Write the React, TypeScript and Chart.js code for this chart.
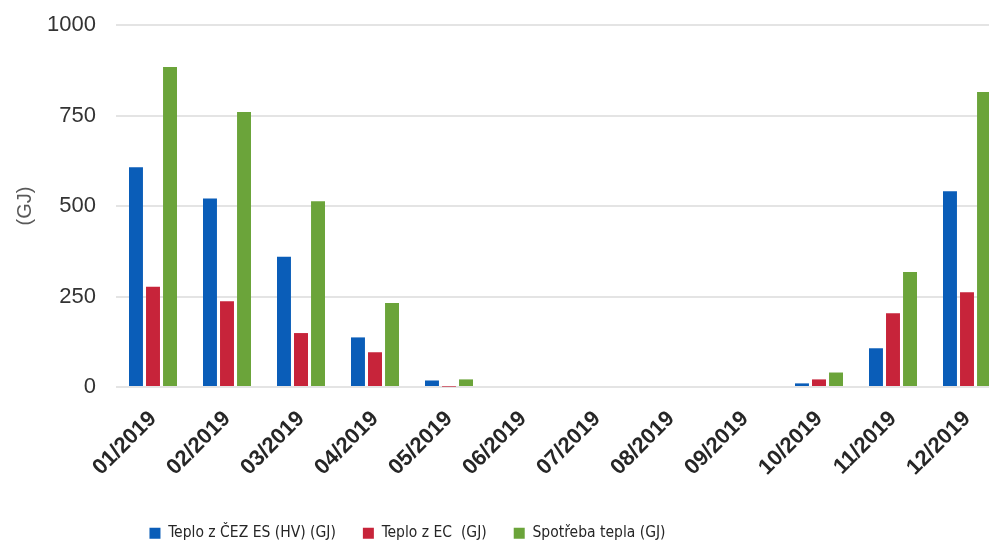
import React, { useEffect, useRef } from "react";
import { Chart, registerables } from "chart.js";

Chart.register(...registerables);

const categories = ["01/2019", "02/2019", "03/2019", "04/2019", "05/2019", "06/2019", "07/2019", "08/2019", "09/2019", "10/2019", "11/2019", "12/2019"];
const seriesNames = ["Teplo z ČEZ ES (HV) (GJ)", "Teplo z EC  (GJ)", "Spotřeba tepla (GJ)"];
const cezValues = [607, 521, 360, 137, 18, 0, 0, 0, 0, 10, 107, 541];
const ecValues = [277, 237, 149, 96, 1, 0, 0, 0, 0, 21, 204, 262];
const spotrebaValues = [884, 760, 513, 232, 21, 0, 0, 0, 0, 40, 318, 815];
const yTicks = [0, 250, 500, 750, 1000];
const yTitle = "(GJ)";

const legendShift = {
  id: "legendShift",
  afterLayout(chart: any) {
    const lg = chart.legend;
    if (!lg) return;
    const shift = 407.5 - (lg.left + lg.right) / 2;
    lg.left += shift;
    lg.right += shift;
  },
};

export default function App() {
  const ref = useRef<HTMLCanvasElement | null>(null);
  useEffect(() => {
    if (!ref.current) return;
    const chart = new Chart(ref.current, {
      type: "bar",
      data: {
        labels: categories,
        datasets: [
          { label: seriesNames[0], data: cezValues, backgroundColor: "#0A5DB8" },
          { label: seriesNames[1], data: ecValues, backgroundColor: "#C7243A" },
          { label: seriesNames[2], data: spotrebaValues, backgroundColor: "#6BA43A" },
        ],
      },
      options: {
        animation: false,
        responsive: false,
        maintainAspectRatio: false,
        layout: { padding: { top: 25, right: 6, left: 0, bottom: 0 } },
        datasets: { bar: { categoryPercentage: 0.69, barPercentage: 0.82 } },
        plugins: {
          tooltip: { enabled: false },
          legend: {
            position: "bottom",
            labels: {
              boxWidth: 11,
              boxHeight: 11,
              padding: 27,
              color: "#262626",
              font: { family: "'Liberation Sans Narrow', 'DejaVu Sans Condensed', sans-serif", size: 15.5 },
            },
          },
        },
        scales: {
          x: {
            grid: { display: false, drawTicks: false },
            border: { display: false },
            ticks: {
              minRotation: 45,
              maxRotation: 45,
              padding: 19,
              color: "#262626",
              font: { family: "'Liberation Sans', Arial, sans-serif", size: 22, weight: "bold" },
            },
            afterFit(scale: any) {
              scale.height = 111.5;
            },
          },
          y: {
            min: 0,
            max: 1000,
            afterBuildTicks(scale: any) {
              scale.ticks = yTicks.map((v) => ({ value: v }));
            },
            grid: { color: "#e4e4e4", lineWidth: 2, drawTicks: true, tickLength: 20, tickColor: "rgba(0,0,0,0)" },
            border: { display: false },
            ticks: {
              padding: 0,
              color: "#333333",
              font: { family: "'Liberation Sans', Arial, sans-serif", size: 22 },
              callback: (v: any) => String(v),
            },
            title: {
              display: true,
              text: yTitle,
              color: "#595959",
              padding: { top: 13, bottom: 0 },
              font: { family: "'Liberation Sans', Arial, sans-serif", size: 20 },
            },
            afterFit(scale: any) {
              scale.width = 116;
            },
          },
        },
      },
      plugins: [legendShift],
    });
    return () => chart.destroy();
  }, []);
  return (
    <div style={{ position: "fixed", left: 0, top: 0, width: 989, height: 547, overflow: "hidden", background: "#fff" }}>
      <canvas ref={ref} width={1010} height={551} style={{ display: "block" }} />
    </div>
  );
}
